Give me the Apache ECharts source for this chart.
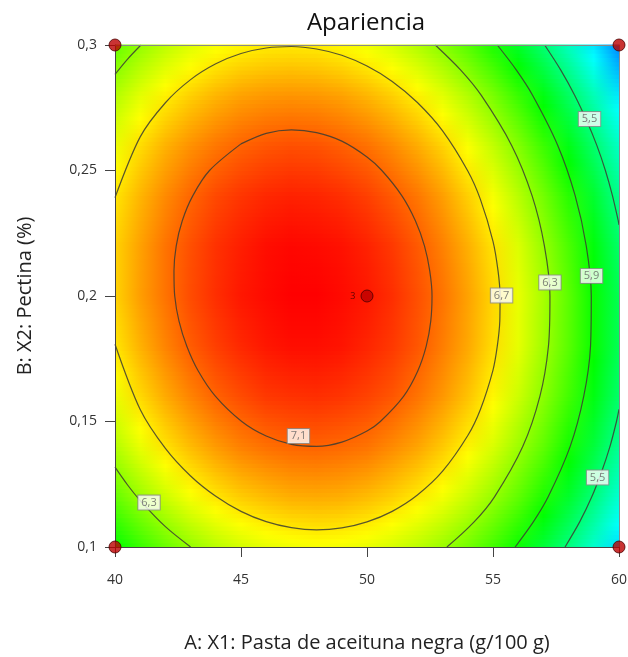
<!DOCTYPE html>
<html><head><meta charset="utf-8">
<script src="https://cdn.jsdelivr.net/npm/echarts@6/dist/echarts.min.js"></script>
<style>html,body{margin:0;padding:0;background:#fff}#c{width:628px;height:657px}</style>
</head><body><div id="c"></div>
<script>
// A: X1 grid columns (g/100 g) and B: X2 grid rows (%)
const aGrid = [40,41,42,43,44,45,46,47,48,49,50,51,52,53,54,55,56,57,58,59,60];
const bGrid = [0.10,0.12,0.14,0.16,0.18,0.20,0.22,0.24,0.26,0.28,0.30];
// Apariencia surface values, one array per B row
const z010 = [5.85,6.02,6.17,6.30,6.41,6.49,6.55,6.58,6.60,6.59,6.56,6.50,6.42,6.32,6.20,6.05,5.88,5.68,5.47,5.23,4.97];
const z012 = [6.15,6.32,6.47,6.60,6.70,6.78,6.83,6.87,6.88,6.87,6.83,6.77,6.69,6.59,6.46,6.31,6.14,5.94,5.72,5.48,5.21];
const z014 = [6.39,6.56,6.71,6.83,6.93,7.01,7.06,7.09,7.10,7.08,7.05,6.98,6.90,6.79,6.66,6.51,6.33,6.14,5.91,5.67,5.40];
const z016 = [6.57,6.74,6.88,7.00,7.10,7.17,7.23,7.25,7.26,7.24,7.20,7.14,7.05,6.94,6.81,6.65,6.47,6.27,6.05,5.80,5.53];
const z018 = [6.70,6.86,7.00,7.12,7.21,7.28,7.33,7.36,7.36,7.34,7.29,7.23,7.14,7.02,6.89,6.73,6.55,6.34,6.12,5.87,5.59];
const z020 = [6.76,6.92,7.05,7.17,7.26,7.33,7.37,7.40,7.40,7.37,7.33,7.26,7.16,7.05,6.91,6.75,6.56,6.36,6.13,5.87,5.60];
const z022 = [6.76,6.91,7.05,7.16,7.25,7.31,7.36,7.38,7.37,7.35,7.30,7.23,7.13,7.01,6.87,6.71,6.52,6.31,6.08,5.82,5.54];
const z024 = [6.70,6.85,6.98,7.09,7.18,7.24,7.28,7.30,7.29,7.26,7.21,7.13,7.04,6.92,6.77,6.60,6.41,6.20,5.97,5.71,5.42];
const z026 = [6.57,6.73,6.86,6.96,7.04,7.10,7.14,7.16,7.15,7.11,7.06,6.98,6.88,6.76,6.61,6.44,6.25,6.03,5.79,5.53,5.25];
const z028 = [6.39,6.54,6.67,6.77,6.85,6.91,6.94,6.95,6.94,6.91,6.85,6.77,6.67,6.54,6.39,6.22,6.02,5.80,5.56,5.30,5.01];
const z030 = [6.15,6.30,6.42,6.52,6.60,6.65,6.68,6.69,6.68,6.64,6.58,6.50,6.39,6.26,6.11,5.93,5.73,5.51,5.27,5.00,4.71];
const zRows = [z010,z012,z014,z016,z018,z020,z022,z024,z026,z028,z030];

// contour lines [A, B]
const contour71 = [[45.0,0.2606],[46.0,0.2648],[47.0,0.2662],[48.0,0.2651],[49.0,0.2617],[50.0,0.2554],[50.59,0.25],[51.38,0.24],[51.92,0.23],[52.28,0.22],[52.49,0.21],[52.58,0.20],[52.53,0.19],[52.35,0.18],[52.01,0.17],[51.45,0.16],[50.53,0.15],[50.0,0.1462],[49.0,0.1418],[48.0,0.1401],[47.0,0.1409],[46.0,0.1442],[45.03,0.15],[43.99,0.16],[43.31,0.17],[42.85,0.18],[42.54,0.19],[42.37,0.20],[42.34,0.21],[42.43,0.22],[42.67,0.23],[43.09,0.24],[43.75,0.25],[45.0,0.2606]];
const contour67 = [[40,0.2392],[41,0.2634],[42,0.2770],[43,0.2862],[44,0.2925],[45,0.2966],[46,0.2988],[47,0.2994],[48,0.2984],[49,0.2959],[50,0.2916],[51,0.2855],[52,0.2771],[53,0.2658],[54,0.2498],[54.5,0.2385],[55,0.2218],[55.2,0.21],[55.28,0.20],[55.27,0.19],[55.17,0.18],[55,0.1705],[54.5,0.1548],[54,0.1444],[53,0.1302],[52,0.1207],[51,0.1142],[50,0.1100],[49,0.1076],[48,0.1068],[47,0.1077],[46,0.1101],[45,0.1142],[44,0.1202],[43,0.1283],[42,0.1393],[41,0.1548],[40,0.1808]];
const contour63TopLeft = [[40,0.2883],[40.5,0.2944],[41.03,0.30]];
const contour63BottomLeft = [[40,0.1318],[40.5,0.1247],[41,0.1185],[42,0.1081],[43,0.10]];
const contour63Right = [[52.71,0.30],[53.72,0.29],[54.53,0.28],[55.74,0.26],[56.55,0.24],[57.04,0.22],[57.26,0.20],[57.20,0.18],[56.86,0.16],[56.18,0.14],[55.06,0.12],[54.25,0.11],[53.17,0.10]];
const contour59 = [[55.17,0.30],[55.93,0.29],[56.57,0.28],[57.57,0.26],[58.26,0.24],[58.70,0.22],[58.90,0.20],[58.87,0.18],[58.60,0.16],[58.06,0.14],[57.19,0.12],[56.60,0.11],[55.88,0.10]];
const contour55Top = [[57.05,0.30],[57.69,0.29],[58.24,0.28],[58.71,0.27],[59.12,0.26],[59.46,0.25],[59.74,0.24],[59.97,0.23],[60,0.2283]];
const contour55Bottom = [[60,0.1548],[59.90,0.15],[59.64,0.14],[59.31,0.13],[58.92,0.12],[58.44,0.11],[57.86,0.10]];
const contourLines = [contour71, contour67, contour63TopLeft, contour63BottomLeft, contour63Right, contour59, contour55Top, contour55Bottom];

// contour labels
const labelA = [47.28, 55.34, 57.26, 58.91, 58.83, 59.15, 41.35];
const labelB = [0.1442, 0.2002, 0.2054, 0.2080, 0.2705, 0.1277, 0.1177];
const labelText = ['7,1','6,7','6,3','5,9','5,5','5,5','6,3'];

// design points
const designA = [40, 40, 60, 60, 50];
const designB = [0.10, 0.30, 0.10, 0.30, 0.20];
const designRuns = [1, 1, 1, 1, 3];

// colour scale span (style)
const colorLow = 4.3, colorHigh = 7.4;

const FONT = '"Open Sans", "Noto Sans", sans-serif';
const ramp = [[0,[0,0,255]],[0.25,[0,255,255]],[0.5,[0,255,0]],[0.75,[255,255,0]],[1,[255,0,0]]];
function colorOf(z){
  let t = (z - colorLow) / (colorHigh - colorLow);
  t = Math.max(0, Math.min(1, t));
  for (let k = 0; k < ramp.length - 1; k++) {
    const a = ramp[k], b = ramp[k+1];
    if (t <= b[0]) {
      const f = (t - a[0]) / (b[0] - a[0]);
      const c = a[1].map((v, i) => Math.round(v + (b[1][i] - v) * f));
      return 'rgb(' + c.join(',') + ')';
    }
  }
  return 'rgb(255,0,0)';
}

const surfaceData = [];
for (let j = 0; j < bGrid.length - 1; j++) surfaceData.push([aGrid[0], bGrid[j], j]);

const aFirst = aGrid[0], aLast = aGrid[aGrid.length - 1];
function renderSurface(params, api){
  const j = api.value(2);
  const lo = zRows[j], hi = zRows[j + 1];
  const p0 = api.coord([aFirst, bGrid[j]]);
  const p1 = api.coord([aLast, bGrid[j + 1]]);
  const S = 12, children = [];
  for (let s = 0; s < S; s++) {
    const fm = (s + 0.5) / S;
    const stops = aGrid.map((a, i) => ({ offset: (a - aFirst) / (aLast - aFirst), color: colorOf(lo[i] * (1 - fm) + hi[i] * fm) }));
    const ya = p0[1] + (p1[1] - p0[1]) * s / S;
    const yc = p0[1] + (p1[1] - p0[1]) * (s + 1) / S;
    children.push({ type: 'rect', shape: { x: p0[0], y: Math.min(ya, yc) - 0.5, width: p1[0] - p0[0], height: Math.abs(yc - ya) + 1 },
      style: { fill: { type: 'linear', x: 0, y: 0, x2: 1, y2: 0, colorStops: stops } } });
  }
  return { type: 'group', children };
}

const series = [{
  type: 'custom', renderItem: renderSurface, data: surfaceData, encode: { x: 0, y: 1 }, z: 1, silent: true
}];
contourLines.forEach(pts => series.push({
  type: 'line', data: pts, smooth: 0.3, showSymbol: false, symbol: 'none', silent: true, z: 3,
  lineStyle: { color: 'rgba(60,60,50,0.85)', width: 1.2 }
}));
series.push({
  type: 'scatter', z: 4, silent: true, symbolSize: 1,
  itemStyle: { color: 'rgba(0,0,0,0)' },
  data: labelA.map((a, i) => [a, labelB[i], labelText[i]]),
  label: { show: true, position: 'inside', formatter: p => p.value[2], fontSize: 11, fontFamily: FONT, color: '#606060',
    backgroundColor: '#fff', borderColor: '#8a8a8a', borderWidth: 1, padding: [2, 3, 1, 3] }
});
series.push({
  type: 'scatter', z: 10, clip: false, silent: true, symbolSize: 12,
  itemStyle: { color: '#bb0000', borderColor: '#4a0000', borderWidth: 1 },
  data: designA.map((a, i) => [a, designB[i], designRuns[i]]),
  label: { show: true, position: 'left', distance: 5, fontSize: 9, fontFamily: FONT, color: '#3a0000',
    formatter: p => (p.value[2] > 1 ? String(p.value[2]) : '') }
});

const chart = echarts.init(document.getElementById('c'), null, { renderer: 'canvas' });
chart.setOption({
  animation: false,
  backgroundColor: '#fff',
  textStyle: { fontFamily: FONT },
  graphic: [{ type: 'text', x: 366, y: 11, z: 20,
    style: { text: 'Apariencia', fontSize: 24, fontFamily: FONT, fill: '#111', align: 'center', verticalAlign: 'top' } }],
  grid: { left: 115, top: 45, right: 9, bottom: 110, containLabel: false, outerBoundsMode: 'none' },
  xAxis: [{
    type: 'value', min: 40, max: 60, interval: 5, position: 'bottom', z: 5,
    axisLine: { show: true, onZero: false, lineStyle: { color: '#444', width: 1 } },
    axisTick: { show: true, length: 10, lineStyle: { color: '#444' } },
    axisLabel: { fontSize: 14, color: '#333', margin: 26, fontFamily: FONT },
    splitLine: { show: false },
    name: 'A: X1: Pasta de aceituna negra (g/100 g)', nameLocation: 'middle', nameGap: 86,
    nameTextStyle: { fontSize: 20, color: '#222', fontFamily: FONT }
  }, {
    type: 'value', min: 40, max: 60, interval: 5, position: 'top', z: 5,
    axisLine: { show: true, onZero: false, lineStyle: { color: '#888', width: 1 } },
    axisTick: { show: false }, axisLabel: { show: false }, splitLine: { show: false }
  }],
  yAxis: [{
    type: 'value', min: 0.1, max: 0.3, interval: 0.05, position: 'left', z: 5,
    axisLine: { show: true, onZero: false, lineStyle: { color: '#444', width: 1 } },
    axisTick: { show: true, length: 10, lineStyle: { color: '#444' } },
    axisLabel: { fontSize: 14, color: '#333', margin: 18, fontFamily: FONT,
      formatter: v => String(Math.round(v * 100) / 100).replace('.', ',') },
    splitLine: { show: false },
    name: 'B: X2: Pectina (%)', nameLocation: 'middle', nameGap: 80,
    nameTextStyle: { fontSize: 20, color: '#222', fontFamily: FONT }
  }, {
    type: 'value', min: 0.1, max: 0.3, interval: 0.05, position: 'right', z: 5,
    axisLine: { show: true, onZero: false, lineStyle: { color: '#888', width: 1 } },
    axisTick: { show: false }, axisLabel: { show: false }, splitLine: { show: false }
  }],
  series: series
});
</script></body></html>
